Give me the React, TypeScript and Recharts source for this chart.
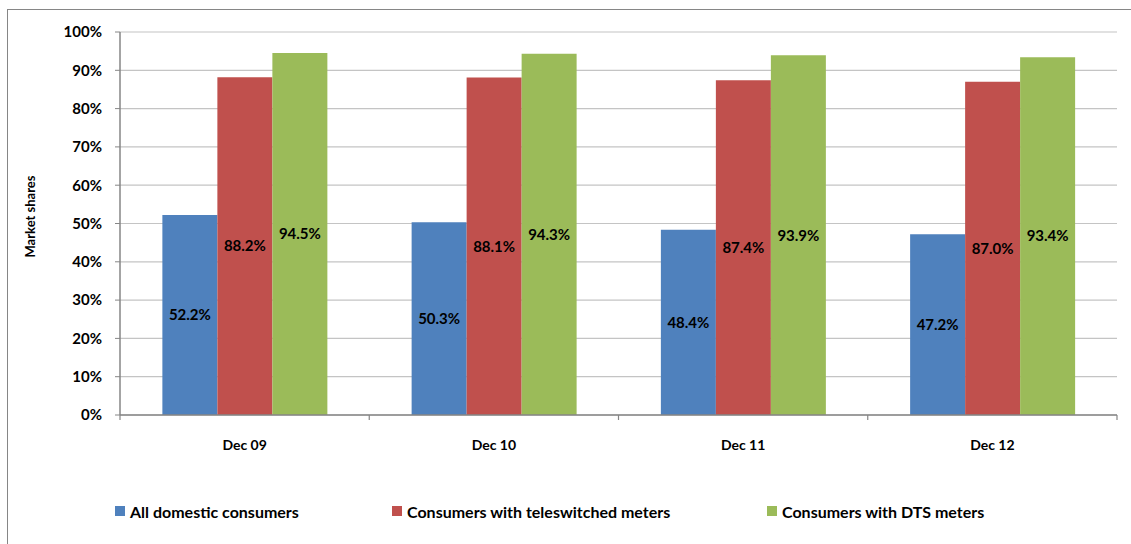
import React from 'react';
import {
  BarChart,
  Bar,
  XAxis,
  YAxis,
  CartesianGrid,
  Legend,
  LabelList,
} from 'recharts';

// Market shares by period (percent)
const categories = ['Dec 09', 'Dec 10', 'Dec 11', 'Dec 12'];
const allDomestic = [52.2, 50.3, 48.4, 47.2];
const teleswitched = [88.2, 88.1, 87.4, 87.0];
const dtsMeters = [94.5, 94.3, 93.9, 93.4];
const yTicks = [0, 10, 20, 30, 40, 50, 60, 70, 80, 90, 100];

const seriesNames = [
  'All domestic consumers',
  'Consumers with teleswitched meters',
  'Consumers with DTS meters',
];
const seriesKeys = ['all', 'tele', 'dts'];
const seriesColors = ['#4F81BD', '#C0504D', '#9BBB59'];

const data = categories.map((category, i) => ({
  category,
  all: allDomestic[i],
  tele: teleswitched[i],
  dts: dtsMeters[i],
}));

const FONT = 'Lato, "Open Sans", sans-serif';
const AXIS_GRAY = '#868686';
const TICK_MARGIN = 25;

const fmt = (v: any) => `${Number(v).toFixed(1)}%`;

// Category label plus tick marks on the category boundaries
const CategoryTick = (props: any) => {
  const { x, y, payload, index, visibleTicksCount } = props;
  const half = payload?.offset ?? 0;
  const axisY = y - TICK_MARGIN;
  const isLast = index === visibleTicksCount - 1;
  return (
    <g>
      <line x1={x - half} x2={x - half} y1={axisY} y2={axisY + 5} stroke={AXIS_GRAY} strokeWidth={1.2} />
      {isLast && (
        <line x1={x + half} x2={x + half} y1={axisY} y2={axisY + 5} stroke={AXIS_GRAY} strokeWidth={1.2} />
      )}
      <text
        x={x}
        y={y}
        dy="0.71em"
        textAnchor="middle"
        fill="#000"
        fontWeight="bold"
        fontSize={14}
        fontFamily={FONT}
      >
        {payload?.value}
      </text>
    </g>
  );
};

const YLabel = (props: any) => {
  const vb = props.viewBox || {};
  const cx = vb.x;
  const cy = vb.y + vb.height / 2 - 7;
  return (
    <text
      x={cx}
      y={cy}
      transform={`rotate(-90, ${cx}, ${cy})`}
      textAnchor="middle"
      dominantBaseline="central"
      fontWeight="bold"
      fontSize={13}
      fill="#000"
      fontFamily={FONT}
    >
      Market shares
    </text>
  );
};

const legendLefts = [115, 392, 767];

const LegendContent = () => (
  <div style={{ position: 'relative', width: 1131, height: 20 }}>
    {seriesNames.map((name, i) => (
      <div
        key={name}
        style={{
          position: 'absolute',
          left: legendLefts[i],
          top: 0,
          height: 20,
          display: 'flex',
          alignItems: 'center',
          whiteSpace: 'nowrap',
        }}
      >
        <span
          style={{
            display: 'inline-block',
            width: 10,
            height: 10,
            background: seriesColors[i],
            marginRight: 5,
          }}
        />
        <span style={{ fontWeight: 'bold', fontSize: 16, color: '#000', fontFamily: FONT }}>
          {name}
        </span>
      </div>
    ))}
  </div>
);

export default function App() {
  return (
    <div
      style={{
        position: 'absolute',
        left: 0,
        top: 0,
        width: 1131,
        height: 544,
        overflow: 'hidden',
        background: '#fff',
        fontFamily: FONT,
      }}
    >
      <div
        style={{
          position: 'absolute',
          left: 7,
          top: 9,
          width: 1300,
          height: 700,
          border: `1.5px solid ${AXIS_GRAY}`,
        }}
      />
      <div style={{ position: 'absolute', left: 0, top: 0 }}>
        <BarChart
          width={1131}
          height={544}
          data={data}
          margin={{ top: 32, right: 14, bottom: 79, left: 30 }}
          barCategoryGap="17%"
          barGap={0}
        >
          <CartesianGrid vertical={false} stroke="#c4c4c4" strokeWidth={1.2} />
          <XAxis
            dataKey="category"
            axisLine={{ stroke: AXIS_GRAY, strokeWidth: 1.5 }}
            tickLine={false}
            tickSize={0}
            tickMargin={TICK_MARGIN}
            height={30}
            interval={0}
            tick={<CategoryTick />}
          />
          <YAxis
            width={90}
            domain={[0, 100]}
            ticks={yTicks}
            interval={0}
            tickFormatter={(v: number) => `${v}%`}
            axisLine={{ stroke: AXIS_GRAY, strokeWidth: 1.5 }}
            tickLine={{ stroke: AXIS_GRAY }}
            tickSize={5}
            tickMargin={13}
            tick={{ fill: '#000', fontWeight: 'bold', fontSize: 15, fontFamily: FONT }}
            label={<YLabel />}
          />
          <Legend
            verticalAlign="bottom"
            content={<LegendContent />}
            wrapperStyle={{ left: 0, top: 501, bottom: 'auto', width: 1131, height: 20 }}
          />
          {seriesKeys.map((key, i) => (
            <Bar
              key={key}
              dataKey={key}
              name={seriesNames[i]}
              fill={seriesColors[i]}
              isAnimationActive={false}
            >
              <LabelList
                dataKey={key}
                position="center"
                formatter={fmt}
                fill="#000"
                fontWeight="bold"
                fontSize={15}
                fontFamily={FONT}
              />
            </Bar>
          ))}
        </BarChart>
      </div>
    </div>
  );
}
